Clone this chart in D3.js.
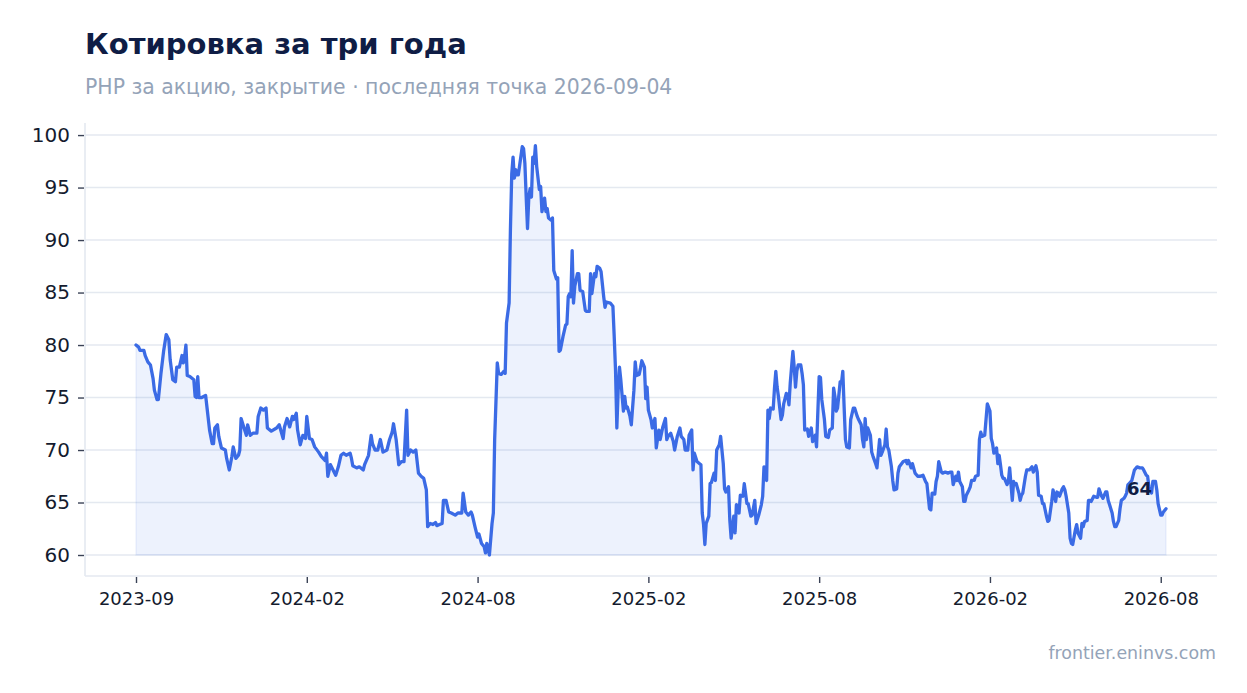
<!DOCTYPE html>
<html>
<head>
<meta charset="utf-8">
<script src="https://cdn.jsdelivr.net/npm/d3@7"></script>
<style>
  html, body { margin: 0; padding: 0; background: #fff; }
  svg { display: block; font-family: "DejaVu Sans", sans-serif; }
</style>
</head>
<body>
<div id="chart"></div>
<script>
// trading session number since 2023-09-04 (last = 2026-09-04)
const sessions = [
  0, 2, 3, 6, 7, 9, 11, 13, 14, 16, 17, 19, 21, 23, 25, 26, 28, 30, 31, 33,
  35, 36, 37, 38, 39, 41, 44, 45, 46, 47, 48, 50, 53, 54, 56, 58, 59, 60, 62, 63,
  65, 68, 69, 71, 73, 74, 76, 78, 79, 80, 82, 84, 85, 87, 89, 92, 93, 95, 97, 99,
  100, 103, 107, 109, 112, 113, 115, 117, 119, 120, 122, 123, 125, 127, 129, 130, 132, 134, 136, 139,
  141, 144, 145, 146, 148, 150, 152, 154, 156, 158, 160, 163, 164, 165, 168, 170, 173, 174, 177, 179,
  180, 182, 184, 186, 188, 191, 193, 195, 196, 198, 199, 200, 202, 204, 206, 207, 209, 211, 213, 215,
  217, 219, 221, 222, 224, 226, 228, 229, 231, 233, 234, 236, 238, 240, 243, 245, 248, 249, 251, 253,
  255, 256, 258, 260, 261, 263, 265, 266, 267, 269, 271, 272, 273, 275, 276, 278, 280, 281, 282, 284,
  285, 286, 287, 288, 289, 290, 291, 292, 294, 295, 296, 297, 298, 299, 300, 301, 302, 303, 304, 305,
  307, 308, 309, 311, 312, 313, 314, 316, 317, 318, 320, 321, 322, 323, 325, 327, 328, 329, 330, 331,
  332, 333, 334, 336, 337, 338, 340, 342, 343, 345, 346, 347, 349, 350, 351, 353, 354, 356, 357, 358,
  361, 363, 364, 365, 366, 367, 368, 369, 371, 372, 373, 374, 376, 377, 379, 380, 381, 383, 384, 385,
  387, 388, 389, 390, 392, 393, 395, 396, 398, 399, 401, 403, 404, 405, 407, 409, 410, 412, 414, 415,
  417, 418, 420, 421, 423, 424, 425, 427, 429, 430, 431, 432, 433, 434, 436, 437, 438, 440, 441, 442,
  444, 445, 447, 448, 449, 451, 452, 453, 455, 456, 457, 459, 460, 462, 463, 465, 466, 468, 469, 471,
  472, 474, 476, 477, 478, 480, 481, 482, 483, 485, 486, 487, 488, 489, 491, 492, 493, 495, 496, 497,
  498, 500, 501, 502, 503, 504, 506, 507, 508, 509, 511, 512, 514, 515, 517, 518, 520, 521, 522, 524,
  525, 527, 528, 530, 531, 532, 533, 534, 536, 537, 538, 539, 540, 541, 543, 544, 546, 547, 549, 550,
  552, 553, 554, 555, 556, 557, 559, 560, 561, 563, 564, 566, 567, 568, 570, 571, 572, 573, 575, 576,
  577, 579, 580, 581, 584, 586, 587, 588, 590, 591, 593, 595, 597, 599, 601, 602, 604, 605, 606, 608,
  609, 610, 611, 613, 614, 616, 618, 620, 621, 622, 624, 625, 626, 627, 629, 630, 631, 632, 634, 635,
  636, 638, 639, 641, 642, 643, 644, 646, 647, 648, 650, 651, 652, 653, 655, 656, 657, 658, 659, 660,
  661, 663, 664, 665, 667, 668, 669, 670, 672, 673, 674, 675, 677, 678, 680, 682, 683, 685, 686, 687,
  689, 690, 691, 693, 694, 695, 697, 698, 700, 701, 702, 703, 705, 706, 707, 708, 710, 711, 712, 713,
  715, 716, 717, 719, 720, 721, 722, 724, 725, 726, 727, 729, 731, 732, 733, 735, 736, 738, 739, 740,
  741, 743, 744, 745, 746, 748, 749, 750, 752, 753, 754, 755, 756, 758, 759, 760, 762, 764, 766, 767,
  769, 770, 771, 772, 773, 774, 776, 777, 778, 780, 781, 782, 784
];

// close, PHP per share
const closes = [
  80.0, 79.8, 79.5, 79.5, 79.0, 78.4, 78.1, 76.8, 75.7, 74.8, 74.8, 77.3, 79.4, 81.0, 80.5, 78.6, 76.7, 76.5, 77.9, 77.9,
  79.0, 78.3, 78.9, 80.0, 77.1, 77.0, 76.7, 75.1, 75.0, 77.0, 75.0, 75.0, 75.2, 74.1, 71.9, 70.6, 70.6, 72.1, 72.4, 71.3,
  70.2, 70.0, 69.2, 68.1, 69.4, 70.3, 69.2, 69.5, 70.0, 73.0, 72.2, 71.4, 72.4, 71.4, 71.6, 71.6, 73.2, 74.0, 73.8, 74.0,
  72.1, 71.8, 72.1, 72.4, 71.1, 72.2, 73.0, 72.2, 73.2, 72.9, 73.5, 71.9, 70.5, 71.4, 71.1, 73.2, 71.1, 71.0, 70.3, 69.8,
  69.4, 69.0, 69.7, 67.5, 68.6, 68.1, 67.6, 68.4, 69.5, 69.7, 69.5, 69.7, 69.2, 68.5, 68.3, 68.4, 68.1, 68.6, 69.5, 71.4,
  70.6, 70.0, 70.0, 71.0, 69.8, 70.0, 71.0, 71.7, 72.5, 71.0, 69.8, 68.6, 68.9, 68.9, 73.8, 69.5, 70.0, 69.8, 70.0, 67.8,
  67.5, 67.3, 66.2, 62.7, 63.0, 62.9, 63.1, 62.8, 62.9, 63.0, 65.2, 65.2, 64.1, 64.0, 63.8, 64.0, 64.0, 65.9, 64.1, 63.8,
  64.1, 63.8, 62.7, 61.7, 62.0, 61.1, 60.8, 60.2, 61.1, 60.0, 63.0, 64.0, 71.0, 78.3, 77.3, 77.2, 77.5, 77.3, 82.1, 84.0,
  91.0, 96.3, 97.9, 95.9, 96.7, 96.2, 96.2, 97.1, 98.9, 98.7, 97.3, 94.1, 91.1, 94.1, 94.9, 94.1, 97.9, 97.3, 99.0, 97.0,
  94.8, 95.1, 92.7, 94.0, 92.7, 93.0, 92.1, 91.9, 92.1, 87.1, 86.3, 86.4, 79.4, 79.5, 80.8, 81.9, 82.0, 84.6, 84.9, 84.6,
  89.0, 84.0, 85.6, 86.8, 86.8, 85.2, 85.1, 83.3, 83.2, 83.2, 86.8, 84.9, 86.8, 86.5, 87.5, 87.3, 87.0, 84.6, 83.6, 84.1,
  84.0, 83.7, 80.8, 77.6, 72.1, 75.7, 77.9, 76.7, 73.7, 75.1, 74.0, 74.1, 73.2, 72.4, 75.7, 78.4, 77.1, 77.2, 77.8, 78.5,
  77.9, 74.9, 76.0, 73.8, 72.9, 72.1, 73.0, 70.2, 71.9, 71.0, 72.2, 73.0, 71.0, 71.3, 71.6, 70.8, 70.0, 71.3, 72.1, 71.3,
  71.0, 70.0, 70.0, 71.4, 71.9, 68.1, 69.7, 68.9, 68.7, 68.6, 64.0, 62.9, 61.0, 63.0, 63.7, 66.8, 66.9, 67.8, 67.1, 70.0,
  70.5, 71.3, 68.7, 66.3, 66.0, 66.5, 63.3, 61.6, 63.7, 62.1, 64.8, 64.0, 65.7, 65.6, 66.8, 64.9, 64.9, 63.7, 63.8, 65.2,
  63.0, 63.8, 64.8, 65.6, 68.4, 67.1, 73.8, 73.0, 74.0, 73.9, 75.9, 77.5, 76.0, 75.1, 72.9, 73.3, 74.4, 75.4, 75.2, 74.3,
  76.4, 79.4, 77.9, 76.0, 77.5, 78.1, 78.1, 77.3, 76.2, 71.9, 72.0, 71.3, 72.1, 70.8, 71.4, 70.3, 77.0, 76.9, 74.8, 72.9,
  71.3, 71.2, 71.9, 72.1, 75.9, 75.1, 73.7, 74.0, 76.5, 76.4, 77.5, 74.1, 71.0, 70.3, 70.2, 72.9, 74.0, 74.0, 73.2, 72.9,
  72.4, 71.0, 70.3, 73.0, 71.0, 72.1, 71.4, 69.8, 69.4, 68.7, 68.3, 71.0, 69.5, 69.8, 70.5, 72.0, 70.3, 70.0, 68.4, 67.1,
  66.2, 66.3, 67.8, 68.4, 68.9, 69.0, 68.7, 69.0, 68.3, 68.7, 67.8, 67.5, 67.5, 67.6, 67.0, 66.8, 64.4, 64.3, 65.9, 65.8,
  67.0, 67.5, 68.9, 67.9, 67.8, 67.9, 67.8, 67.9, 67.9, 66.7, 67.5, 67.1, 67.9, 67.0, 66.5, 65.1, 65.1, 65.7, 66.2, 66.5,
  67.1, 67.1, 67.5, 67.6, 71.0, 71.7, 71.3, 71.4, 72.9, 74.4, 73.7, 71.1, 70.6, 69.7, 70.2, 68.7, 69.5, 68.6, 67.6, 67.3,
  67.3, 66.7, 67.0, 68.3, 65.2, 67.0, 66.7, 66.8, 65.9, 65.2, 65.7, 65.9, 67.5, 68.1, 68.1, 68.4, 67.9, 68.5, 67.9, 65.7,
  65.6, 64.9, 64.9, 63.7, 63.2, 63.3, 65.1, 66.2, 65.1, 66.0, 65.9, 65.6, 66.3, 66.5, 66.2, 65.6, 64.0, 61.6, 61.1, 61.0,
  62.4, 62.9, 62.1, 61.6, 63.0, 62.7, 63.2, 63.3, 65.2, 65.2, 65.1, 65.6, 65.5, 65.5, 66.3, 65.6, 65.4, 66.0, 66.0, 65.2,
  64.8, 64.0, 63.2, 62.7, 62.7, 63.3, 64.4, 65.2, 65.4, 65.6, 65.9, 66.7, 66.8, 67.1, 67.6, 68.1, 68.4, 68.3, 68.3, 68.1,
  67.6, 67.5, 66.5, 66.2, 65.9, 67.0, 67.0, 66.2, 64.9, 63.8, 63.8, 64.1, 64.4
];

const yTicks = [60, 65, 70, 75, 80, 85, 90, 95, 100];
const tickSessions = [0, 130, 260, 390, 520, 650, 780];
const tickLabels = ['2023-09', '2024-02', '2024-08', '2025-02', '2025-08', '2026-02', '2026-08'];

const titleText = 'Котировка за три года';
const subtitleText = 'PHP за акцию, закрытие · последняя точка 2026-09-04';
const sourceText = 'frontier.eninvs.com';

const W = 1247, H = 693;
const plot = { left: 85, right: 1217, top: 123, bottom: 576 };
const padX = 51;

const data = sessions.map((s, i) => ({ s, v: closes[i] }));
const last = data[data.length - 1];
const baseValue = d3.min(closes);

const svg = d3.select('#chart').append('svg')
  .attr('width', W)
  .attr('height', H);

svg.append('rect').attr('width', W).attr('height', H).attr('fill', '#fff');

const x = d3.scaleLinear()
  .domain(d3.extent(sessions))
  .range([plot.left + padX, plot.right - padX]);

const y = d3.scaleLinear()
  .domain([58, 101.15])
  .range([plot.bottom, plot.top]);

// titles
svg.append('text')
  .attr('x', 85).attr('y', 54)
  .attr('font-size', 29).attr('font-weight', 'bold')
  .attr('fill', '#0f1d45')
  .text(titleText);

svg.append('text')
  .attr('x', 85).attr('y', 94)
  .attr('font-size', 20.4)
  .attr('fill', '#94a3b8')
  .text(subtitleText);

// grid
svg.append('g')
  .selectAll('line')
  .data(yTicks)
  .join('line')
  .attr('x1', plot.left).attr('x2', plot.right)
  .attr('y1', (d) => y(d)).attr('y2', (d) => y(d))
  .attr('stroke', '#e4e9f0')
  .attr('stroke-width', 1.6);

// axis lines
svg.append('line')
  .attr('x1', plot.left).attr('x2', plot.left)
  .attr('y1', plot.top).attr('y2', plot.bottom)
  .attr('stroke', '#e4e9f0').attr('stroke-width', 1.6);
svg.append('line')
  .attr('x1', plot.left).attr('x2', plot.right)
  .attr('y1', plot.bottom).attr('y2', plot.bottom)
  .attr('stroke', '#e4e9f0').attr('stroke-width', 1.6);

// Add the Y Axis
const yAxis = svg.append('g')
  .attr('transform', `translate(${plot.left - 1},0)`)
  .call(d3.axisLeft(y).tickValues(yTicks).tickSize(6).tickPadding(8));
yAxis.select('.domain').remove();
yAxis.selectAll('line').attr('stroke', '#3a4256').attr('stroke-width', 1.4);
yAxis.selectAll('text')
  .attr('font-family', '"DejaVu Sans", sans-serif')
  .attr('font-size', 20)
  .attr('fill', '#141b2e');

// Add the X Axis
const xAxis = svg.append('g')
  .attr('transform', `translate(0,${plot.bottom + 1})`)
  .call(d3.axisBottom(x)
    .tickValues(tickSessions)
    .tickFormat((d, i) => tickLabels[i])
    .tickSize(6)
    .tickPadding(9));
xAxis.select('.domain').remove();
xAxis.selectAll('line').attr('stroke', '#3a4256').attr('stroke-width', 1.4);
xAxis.selectAll('text')
  .attr('font-family', '"DejaVu Sans", sans-serif')
  .attr('font-size', 18)
  .attr('fill', '#141b2e');

// area + line
const area = d3.area()
  .x((d) => x(d.s))
  .y0(y(baseValue))
  .y1((d) => y(d.v));

const line = d3.line()
  .x((d) => x(d.s))
  .y((d) => y(d.v));

svg.append('path')
  .datum(data)
  .attr('d', area)
  .attr('fill', '#3b6ee8')
  .attr('fill-opacity', 0.09)
  .attr('stroke', '#3b6ee8')
  .attr('stroke-opacity', 0.08)
  .attr('stroke-width', 1.5);

svg.append('path')
  .datum(data)
  .attr('d', line)
  .attr('fill', 'none')
  .attr('stroke', '#3b6be5')
  .attr('stroke-width', 3.3)
  .attr('stroke-linejoin', 'round')
  .attr('stroke-linecap', 'round');

// last value label
svg.append('text')
  .attr('x', x(last.s) - 14)
  .attr('y', y(last.v) - 14)
  .attr('text-anchor', 'end')
  .attr('font-size', 18).attr('font-weight', 'bold')
  .attr('fill', '#0f1d45')
  .text(Math.round(last.v));

// source
svg.append('text')
  .attr('x', 1216).attr('y', 659)
  .attr('text-anchor', 'end')
  .attr('font-size', 17.4)
  .attr('fill', '#94a3b8')
  .text(sourceText);
</script>
</body>
</html>
